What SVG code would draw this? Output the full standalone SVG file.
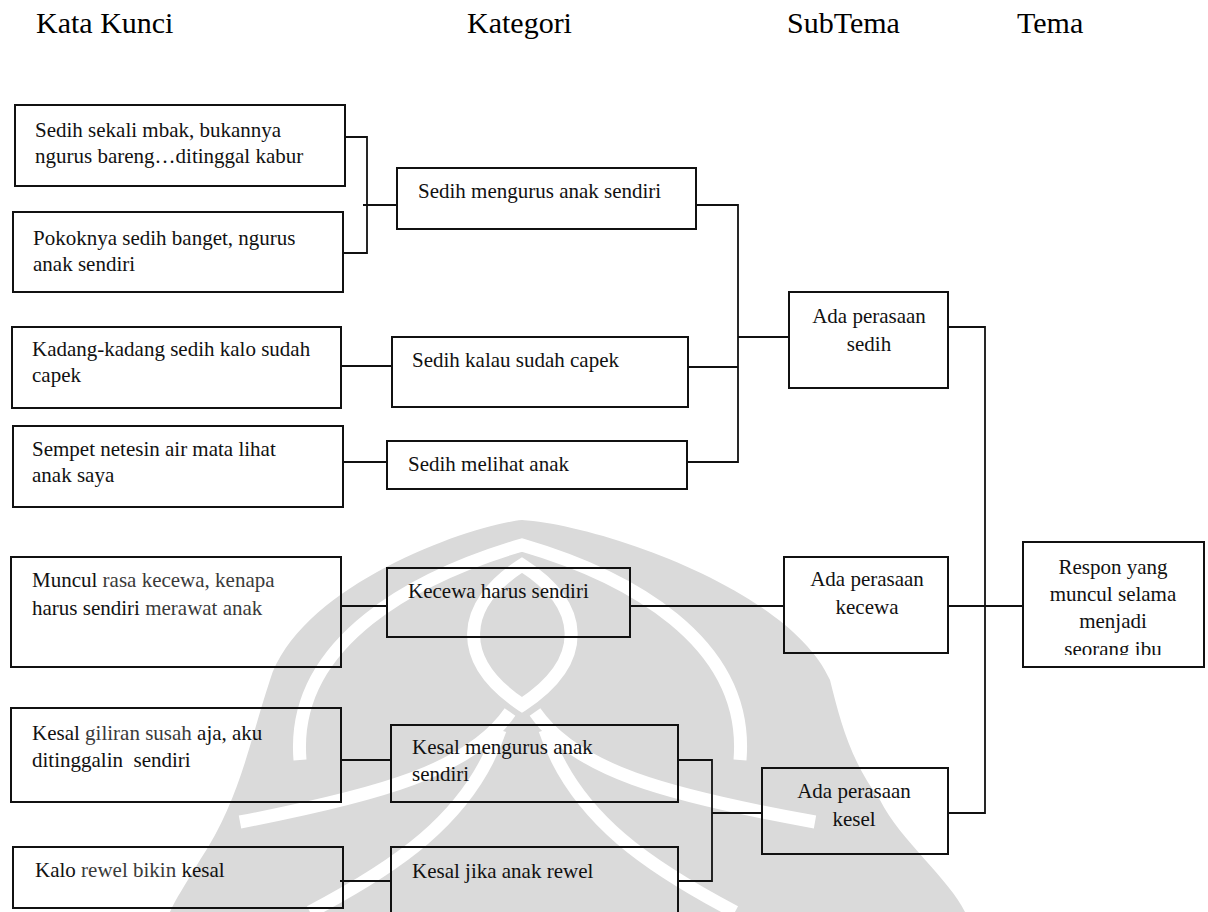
<svg xmlns="http://www.w3.org/2000/svg" width="1208" height="912" viewBox="0 0 1208 912">
<style>
.h{font-family:"Liberation Serif","Times New Roman",serif;font-size:30px;fill:#000}
.t{font-family:"Liberation Serif","Times New Roman",serif;font-size:21px;fill:#111}
.c{text-anchor:middle}
.g{fill:#3a3a3a}
.box{fill:none;stroke:#111;stroke-width:2}
.ln{fill:none;stroke:#111;stroke-width:1.8}
.wm{fill:#dadada}
.wb{fill:none;stroke:#fff;stroke-width:13}
</style>
<defs>
<clipPath id="tclip"><rect x="1023" y="542" width="181" height="113"/></clipPath>
</defs>
<rect width="1208" height="912" fill="#fff"/>
<g id="watermark">
<path class="wm" d="M522,520 C470,525 300,585 270,680 C250,740 240,800 200,860 C185,885 175,900 170,912 L965,912 C950,880 900,840 880,800 C850,760 840,720 830,680 C790,590 600,525 522,520 Z"/>
<path class="wb" d="M300,760 C290,640 420,575 522,545 C625,575 750,640 740,760"/>
<path class="wb" d="M522,565 C460,605 455,660 522,705 C590,660 585,605 522,565 Z"/>
<path class="wb" d="M510,712 C470,770 380,795 240,822"/>
<path class="wb" d="M535,712 C575,770 665,795 815,822"/>
<path class="wb" d="M500,730 C470,820 390,870 310,912"/>
<path class="wb" d="M545,730 C575,820 655,870 735,912"/>
</g>
<g id="headers">
<text class="h" x="36" y="33">Kata Kunci</text>
<text class="h" x="467" y="33">Kategori</text>
<text class="h" x="787" y="33">SubTema</text>
<text class="h" x="1017" y="33">Tema</text>
</g>
<g id="connectors">
<path class="ln" d="M345,137 H367 V253 H343 M363,205 H397"/>
<path class="ln" d="M341,366 H392"/>
<path class="ln" d="M343,462 H387"/>
<path class="ln" d="M696,205 H738 V462 H687 M688,367 H738 M738,337 H789"/>
<path class="ln" d="M341,606 H387 M630,606 H784"/>
<path class="ln" d="M948,327 H985 V813 H948 M948,606 H1023"/>
<path class="ln" d="M341,760 H391"/>
<path class="ln" d="M340,881 H391"/>
<path class="ln" d="M678,760 H712 V881 H678 M712,813 H762"/>
</g>
<g id="b1"><rect class="box" x="15" y="105" width="330" height="81"/>
<text class="t" x="35" y="137">Sedih sekali mbak, bukannya</text>
<text class="t" x="35" y="163">ngurus bareng…ditinggal kabur</text></g>
<g id="b2"><rect class="box" x="13" y="212" width="330" height="80"/>
<text class="t" x="33" y="245">Pokoknya sedih banget, ngurus</text>
<text class="t" x="33" y="271">anak sendiri</text></g>
<g id="b3"><rect class="box" x="12" y="327" width="329" height="81"/>
<text class="t" x="32" y="356">Kadang-kadang sedih kalo sudah</text>
<text class="t" x="32" y="382">capek</text></g>
<g id="b4"><rect class="box" x="13" y="426" width="330" height="81"/>
<text class="t" x="32" y="456">Sempet netesin air mata lihat</text>
<text class="t" x="32" y="482">anak saya</text></g>
<g id="b5"><rect class="box" x="11" y="557" width="330" height="110"/>
<text class="t" x="32" y="587">Muncul <tspan class="g">rasa kecewa, kenapa</tspan></text>
<text class="t" x="32" y="615">harus sendiri <tspan class="g">merawat anak</tspan></text></g>
<g id="b6"><rect class="box" x="11" y="708" width="330" height="94"/>
<text class="t" x="32" y="740">Kesal <tspan class="g">giliran susah</tspan> aja, aku</text>
<text class="t" x="32" y="767">ditinggalin&#160; sendiri</text></g>
<g id="b7"><rect class="box" x="13" y="847" width="330" height="61"/>
<text class="t" x="35" y="877">Kalo <tspan class="g">rewel bikin</tspan> kesal</text></g>
<g id="c1"><rect class="box" x="397" y="168" width="299" height="61"/>
<text class="t" x="418" y="198">Sedih mengurus anak sendiri</text></g>
<g id="c2"><rect class="box" x="392" y="337" width="296" height="70"/>
<text class="t" x="412" y="367">Sedih kalau sudah capek</text></g>
<g id="c3"><rect class="box" x="387" y="441" width="300" height="48"/>
<text class="t" x="408" y="471">Sedih melihat anak</text></g>
<g id="c4"><rect class="box" x="387" y="568" width="243" height="69"/>
<text class="t" x="408" y="598">Kecewa harus sendiri</text></g>
<g id="c5"><rect class="box" x="391" y="725" width="287" height="77"/>
<text class="t" x="412" y="754">Kesal mengurus anak</text>
<text class="t" x="412" y="781">sendiri</text></g>
<g id="c6"><rect class="box" x="391" y="847" width="287" height="80"/>
<text class="t" x="412" y="878">Kesal jika anak rewel</text></g>
<g id="s1"><rect class="box" x="789" y="292" width="159" height="96"/>
<text class="t c" x="869" y="323">Ada perasaan</text>
<text class="t c" x="869" y="351">sedih</text></g>
<g id="s2"><rect class="box" x="784" y="557" width="164" height="96"/>
<text class="t c" x="867" y="586">Ada perasaan</text>
<text class="t c" x="867" y="614">kecewa</text></g>
<g id="s3"><rect class="box" x="762" y="768" width="186" height="86"/>
<text class="t c" x="854" y="798">Ada perasaan</text>
<text class="t c" x="854" y="826">kesel</text></g>
<g id="t1"><rect class="box" x="1023" y="542" width="181" height="125"/>
<g clip-path="url(#tclip)">
<text class="t c" x="1113" y="574">Respon yang</text>
<text class="t c" x="1113" y="601">muncul selama</text>
<text class="t c" x="1113" y="628">menjadi</text>
<text class="t c" x="1113" y="656">seorang ibu</text>
</g></g>
</svg>
